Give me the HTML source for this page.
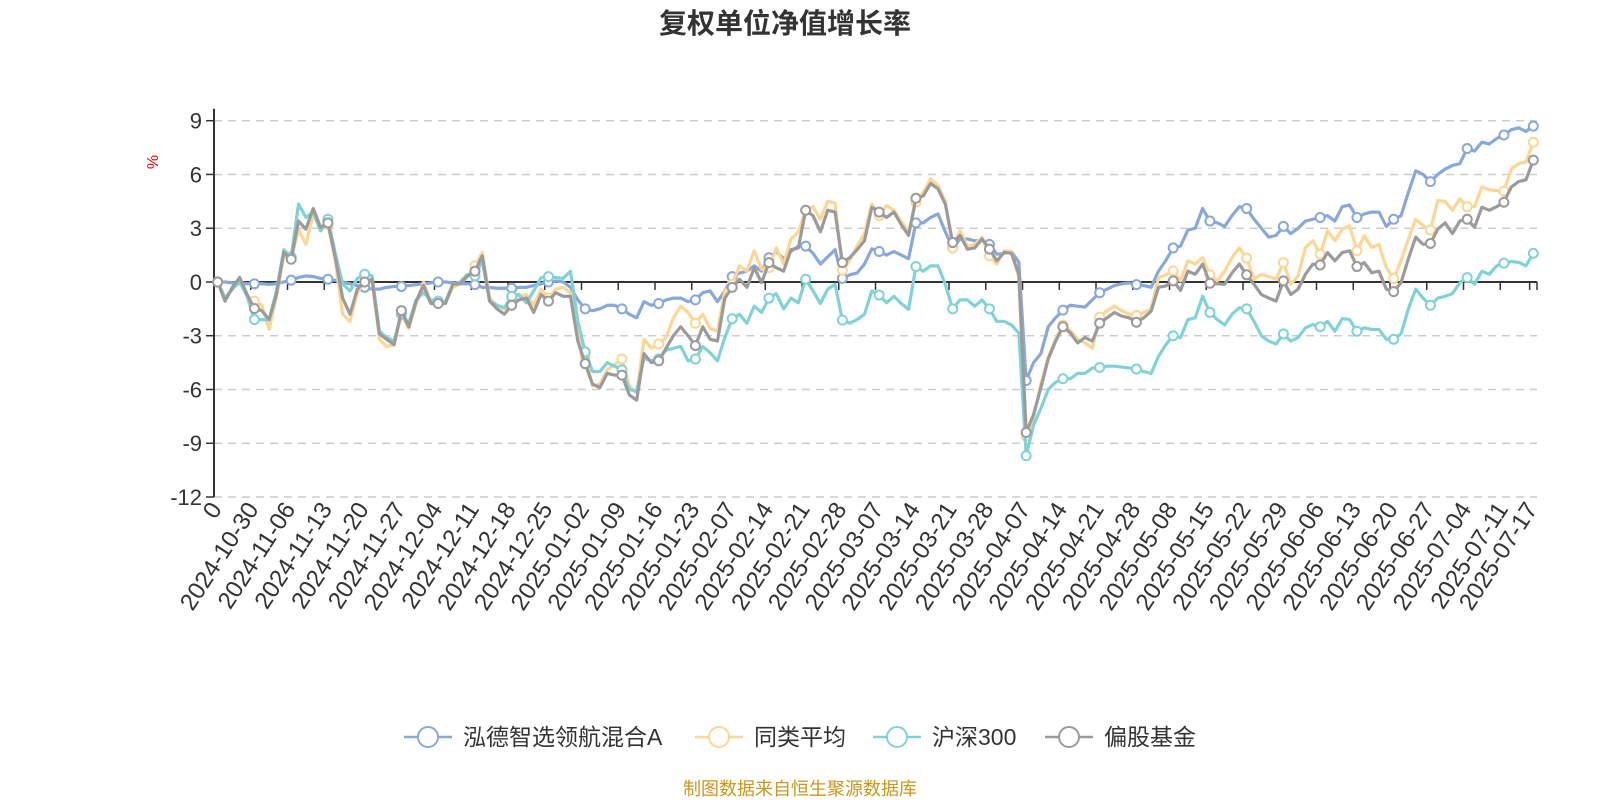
<!DOCTYPE html>
<html><head><meta charset="utf-8"><style>
body{margin:0;background:#fff;}
svg{display:block;font-family:"Liberation Sans","Noto Sans CJK SC",sans-serif;}
</style></head><body>
<svg id="chart" width="1600" height="800" viewBox="0 0 1600 800" xmlns="http://www.w3.org/2000/svg">
<text x="785" y="33" text-anchor="middle" font-size="28" font-weight="bold" fill="#333">复权单位净值增长率</text>
<text x="0" y="0" transform="translate(158,162) rotate(-90)" text-anchor="middle" font-size="16" fill="#e00">%</text>
<g id="grid"></g>
<g id="yaxis"></g>
<g id="xaxis"></g>
<g id="series"></g>
<g id="legend"></g>
<text x="800" y="795" text-anchor="middle" font-size="18" fill="#c9961f">制图数据来自恒生聚源数据库</text>
</svg>
<script>
const yTicks = [9,6,3,0,-3,-6,-9,-12];
const tickLabels = ["0","2024-10-30","2024-11-06","2024-11-13","2024-11-20","2024-11-27","2024-12-04","2024-12-11","2024-12-18","2024-12-25","2025-01-02","2025-01-09","2025-01-16","2025-01-23","2025-02-07","2025-02-14","2025-02-21","2025-02-28","2025-03-07","2025-03-14","2025-03-21","2025-03-28","2025-04-07","2025-04-14","2025-04-21","2025-04-28","2025-05-08","2025-05-15","2025-05-22","2025-05-29","2025-06-06","2025-06-13","2025-06-20","2025-06-27","2025-07-04","2025-07-11","2025-07-17"];
const tickIndex = [0,5,10,15,20,25,30,35,40,45,50,55,60,65,70,75,80,85,90,95,100,105,110,115,120,125,130,135,140,145,150,155,160,165,170,175,179];
const seriesNames = ["泓德智选领航混合A","同类平均","沪深300","偏股基金"];
const fundA = [0,0,-0.05,-0.05,-0.1,-0.1,-0.1,-0.13,-0.1,0,0.1,0.25,0.34,0.3,0.2,0.15,0.1,0,-0.1,-0.2,-0.3,-0.4,-0.4,-0.3,-0.25,-0.25,-0.2,-0.15,-0.1,-0.05,
0,0,-0.05,-0.1,-0.1,-0.15,-0.3,-0.3,-0.35,-0.35,-0.35,-0.3,-0.3,-0.2,-0.1,0,0.05,0,-0.3,-1.0,
-1.5,-1.6,-1.5,-1.3,-1.3,-1.5,-1.8,-2.0,-1.1,-1.3,-1.2,-1.0,-0.9,-0.9,-1.1,-1.0,-0.6,-0.5,-1.1,-0.5,
0.3,0.5,0.6,0.9,0.6,1.35,1.7,1.3,1.7,2.0,2.0,1.6,1.0,1.4,1.8,0.2,0.4,0.5,1.0,1.85,
1.7,1.5,1.7,1.5,1.3,3.3,3.3,3.6,3.8,2.8,1.9,2.4,2.4,2.3,2.3,2.1,1.55,1.6,1.7,1.1,
-5.5,-4.5,-4.0,-2.5,-2.0,-1.57,-1.3,-1.35,-1.4,-1.0,-0.6,-0.4,-0.2,-0.1,-0.05,-0.15,-0.2,-0.3,0.6,1.2,
1.9,2.0,2.9,3.0,4.1,3.4,3.3,3.1,3.7,4.2,4.1,3.5,3.0,2.5,2.6,3.1,2.7,3.0,3.4,3.5,
3.6,3.7,3.4,4.2,4.3,3.6,3.8,3.9,3.9,3.1,3.5,3.7,5.0,6.2,6.0,5.6,6.0,6.3,6.5,6.6,
7.45,7.3,7.8,7.7,8.0,8.2,8.5,8.6,8.4,8.7];
const peerAvg = [0,-0.9,-0.4,0.2,-0.8,-1.07,-1.3,-2.65,-0.8,1.5,1.3,2.9,2.1,3.8,2.9,3.2,1.2,-1.8,-2.2,-0.6,
0,0.1,-3.2,-3.6,-3.5,-1.8,-2.6,-1.2,0,-1.1,-1.1,-1.1,-0.3,-0.1,0.3,0.9,1.65,-0.9,-1.3,-1.5,
-1.2,-0.8,-0.7,-1.3,-0.4,-0.9,-0.4,-0.3,-0.6,-3.0,-4.15,-5.8,-5.7,-4.9,-4.6,-4.3,-5.8,-6.2,-3.2,-3.7,
-3.46,-3.1,-2.0,-1.35,-1.7,-2.3,-1.8,-2.6,-2.75,-0.5,-0.13,0.9,0.6,1.74,0.7,0.8,1.9,1.0,2.4,2.8,
4.0,4.2,3.5,4.5,4.4,0.65,1.2,2.0,2.7,4.35,3.7,4.26,4.0,3.4,2.8,4.45,5.0,5.75,5.4,4.5,
1.9,2.86,2.0,2.1,2.5,1.46,1.0,1.74,1.7,0.24,-8.6,-7.6,-5.7,-4.2,-3.2,-2.4,-2.7,-3.2,-3.4,-3.7,
-1.96,-1.6,-1.35,-1.6,-1.8,-1.87,-1.7,-1.5,0.24,0.4,0.62,0.06,1.18,1.0,1.36,0.4,0.06,0.6,1.36,1.9,
1.33,0.15,0.43,0.3,0.15,1.08,-0.13,0.34,1.93,2.3,1.55,2.86,2.3,2.95,3.14,1.74,2.58,1.93,2.1,0.8,
0.19,1.18,2.4,3.5,3.14,2.9,4.54,4.5,4.0,4.64,4.2,4.2,5.3,5.14,5.1,5.07,6.3,6.6,6.7,7.8];
const csi300 = [0,-0.9,-0.4,0,-0.8,-2.1,-2.1,-2.1,-0.5,1.8,1.4,4.35,3.6,3.9,2.85,3.5,1.6,-0.1,-0.5,0.2,
0.43,0.35,-2.75,-3.1,-3.3,-1.8,-2.3,-1.0,-0.6,-1.0,-1.07,-1.1,-0.1,0,0.43,0.34,1.2,-1.07,-1.3,-1.44,
-0.8,-0.7,-1.16,-0.5,0.24,0.3,0.25,0.2,0.6,-2.2,-3.9,-5.0,-5.0,-4.5,-4.7,-4.9,-6.0,-6.1,-4.25,-4.4,
-4.3,-3.8,-3.7,-3.6,-4.4,-4.3,-3.6,-3.95,-4.4,-3.1,-2.05,-1.8,-2.3,-1.35,-1.7,-0.9,-0.65,-1.5,-0.9,-1.16,
0.15,-0.5,-1.2,-0.4,-0.13,-2.13,-2.3,-2.1,-1.8,-0.5,-0.73,-1.16,-0.8,-1.2,-1.53,0.86,0.6,0.9,0.9,-0.13,
-1.5,-1.0,-1.0,-1.35,-1.0,-1.5,-2.2,-2.2,-2.4,-2.85,-9.7,-8.0,-7.05,-6.0,-5.6,-5.4,-5.4,-5.1,-5.1,-4.8,
-4.77,-4.7,-4.7,-4.75,-4.8,-4.86,-5.0,-5.1,-4.15,-3.5,-3.0,-3.1,-2.1,-2.0,-0.8,-1.7,-2.1,-2.4,-1.8,-1.44,
-1.5,-2.2,-3.0,-3.3,-3.46,-2.9,-3.3,-3.1,-2.56,-2.37,-2.5,-2.2,-2.75,-2.04,-2.1,-2.75,-2.56,-2.65,-2.65,-3.2,
-3.2,-2.9,-1.5,-0.4,-0.9,-1.3,-0.9,-0.8,-0.65,-0.04,0.24,-0.13,0.6,0.43,0.9,1.05,1.14,1.1,0.9,1.6];
const equityFund = [0,-1.07,-0.3,0.25,-0.7,-1.48,-1.6,-2.1,-0.7,1.65,1.27,3.4,2.95,4.1,3.05,3.3,1.36,-0.9,-1.8,-0.4,
0,0.15,-2.9,-3.2,-3.5,-1.6,-2.5,-1.07,-0.2,-1.2,-1.2,-1.2,-0.13,-0.1,0.34,0.6,1.46,-1.07,-1.5,-1.8,
-1.3,-1.0,-0.9,-1.7,-0.7,-1.07,-0.6,-0.8,-0.8,-3.3,-4.56,-5.7,-5.9,-5.1,-5.2,-5.2,-6.3,-6.6,-4.0,-4.5,
-4.4,-3.7,-3.0,-2.5,-3.0,-3.55,-2.5,-3.2,-3.3,-0.9,-0.3,0.15,-0.3,0.8,-0.04,1.08,0.8,0.6,1.8,1.9,
4.0,3.7,2.8,4.0,3.9,1.08,1.36,1.8,2.3,4.17,3.9,3.6,3.9,3.2,2.6,4.67,4.8,5.5,5.2,4.35,
2.2,2.6,1.83,1.9,2.4,1.83,1.18,1.65,1.6,0.43,-8.4,-7.4,-5.9,-4.3,-3.3,-2.5,-2.84,-3.4,-3.1,-3.3,
-2.3,-2.0,-1.7,-1.9,-2.0,-2.25,-2.0,-1.63,-0.3,-0.22,0.06,-0.47,0.6,0.43,1.0,-0.07,-0.1,-0.13,0.5,1.0,
0.4,-0.13,-0.7,-0.9,-1.07,0.06,-0.7,-0.4,0.43,1.0,0.95,1.64,1.18,1.64,1.74,0.86,1.08,0.52,0.6,-0.4,
-0.54,-0.04,1.3,2.5,2.1,2.15,2.95,3.3,2.7,3.4,3.5,3.05,4.17,4.0,4.2,4.45,5.3,5.6,5.7,6.8];

const NS = "http://www.w3.org/2000/svg";
const X0 = 214, X1 = 1537, NB = 180, BW = (X1 - X0) / NB;
const Y_TOP = 120.7, Y_BOT = 497, VMAX = 9, VMIN = -12;
function xScale(i){ return X0 + (i + 0.5) * BW; }
function xBound(i){ return X0 + i * BW; }
function yScale(v){ return Y_TOP + (VMAX - v) / (VMAX - VMIN) * (Y_BOT - Y_TOP); }
function mk(tag, attrs, parent){
  const e = document.createElementNS(NS, tag);
  for (const k in attrs) e.setAttribute(k, attrs[k]);
  parent.appendChild(e); return e;
}
const grid = document.getElementById('grid');
const yaxis = document.getElementById('yaxis');
const xaxis = document.getElementById('xaxis');
yTicks.forEach(v => {
  const y = yScale(v);
  if (v !== 0) {
    const l = mk('line', {x1:X0, x2:X1, y1:y, y2:y, stroke:'#ccc', 'stroke-width':1.5, 'stroke-dasharray':'8,6'}, grid);
    
    
  }
  const t = mk('line', {x1:X0-8, x2:X0, y1:y, y2:y, stroke:'#333', 'stroke-width':1.5}, yaxis);
  
  
  const tx = mk('text', {x:X0-12, y:y+8, 'text-anchor':'end', 'font-size':22, fill:'#333'}, yaxis);
  tx.textContent = String(v);
  
  
});
const yl = mk('line', {x1:X0, x2:X0, y1:Y_TOP-12, y2:Y_BOT, stroke:'#333', 'stroke-width':2}, yaxis);


const y0 = yScale(0);
const xl = mk('line', {x1:X0, x2:X1, y1:y0, y2:y0, stroke:'#333', 'stroke-width':2}, xaxis);


const bnds = [];
for (let b = 0; b <= 175; b += 5) bnds.push(b);
bnds.push(179, 180);
bnds.forEach(b => {
  const x = xBound(b);
  const t = mk('line', {x1:x, x2:x, y1:y0, y2:y0+8, stroke:'#333', 'stroke-width':1.5}, xaxis);
  
  
});
tickLabels.forEach((lab, k) => {
  const x = xScale(tickIndex[k]);
  const t = mk('text', {x:0, y:0, transform:'translate(' + (x+5) + ',' + (Y_BOT+12) + ') rotate(-57)', 'text-anchor':'end', 'font-size':24, fill:'#333'}, xaxis);
  t.textContent = lab;
  
  
});

const colors = ['#88a8dc', '#fdd594', '#80d2d6', '#9b9b9b'];
const allSeries = [fundA, peerAvg, csi300, equityFund];
const sg = document.getElementById('series');
allSeries.forEach((data, s) => {
  const g = mk('g', {}, sg);
  
  
  let d = '';
  data.forEach((v, i) => { d += (i ? 'L' : 'M') + xScale(i).toFixed(2) + ',' + yScale(v).toFixed(2); });
  const p = mk('path', {d:d, fill:'none', stroke:colors[s], 'stroke-width':3.2, 'stroke-linejoin':'round'}, g);
  
  
  data.forEach((v, i) => {
    if (i % 5 === 0 || i === data.length - 1) {
      const c = mk('circle', {cx:xScale(i), cy:yScale(v), r:4.5, fill:'#fff', stroke:colors[s], 'stroke-width':2}, g);
      
      
    }
  });
});

const lg = document.getElementById('legend');
const legX = [404, 695, 873, 1045];
seriesNames.forEach((n, s) => {
  const g = mk('g', {}, lg);
  
  
  const cy = 737, x = legX[s];
  mk('line', {x1:x, x2:x+48, y1:cy, y2:cy, stroke:colors[s], 'stroke-width':2.5}, g);
  mk('circle', {cx:x+24, cy:cy, r:10, fill:'#fff', stroke:colors[s], 'stroke-width':2}, g);
  const t = mk('text', {x:x+59, y:cy+8, 'font-size':23, fill:'#333'}, g);
  t.textContent = n;
});
</script>
</body></html>
